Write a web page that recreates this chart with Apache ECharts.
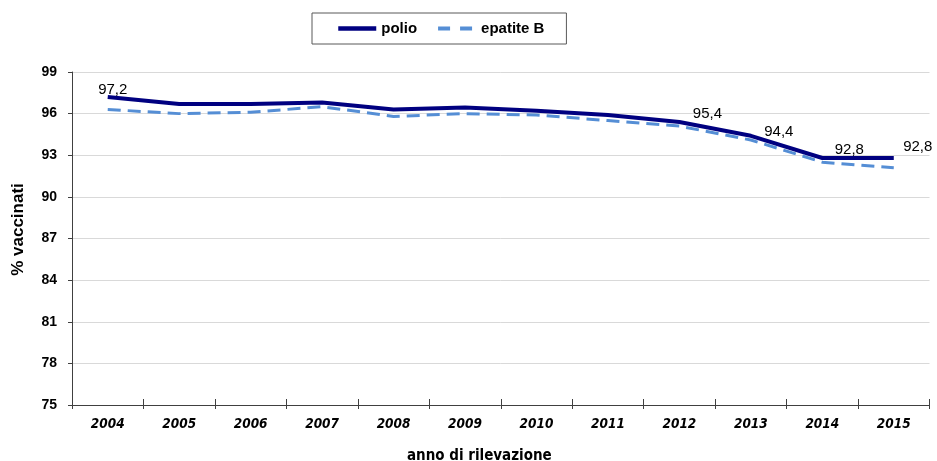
<!DOCTYPE html>
<html>
<head>
<meta charset="utf-8">
<script src="https://cdn.jsdelivr.net/npm/echarts@6/dist/echarts.min.js"></script>
<style>
  html, body { margin: 0; padding: 0; background: #fff; }
  #chart { width: 937px; height: 461px; }
</style>
</head>
<body>
<div id="chart"></div>
<script>
// Survey years
const years = ['2004', '2005', '2006', '2007', '2008', '2009', '2010', '2011', '2012', '2013', '2014', '2015'];
// Vaccination coverage (%)
const polio = [97.2, 96.7, 96.7, 96.8, 96.3, 96.45, 96.2, 95.9, 95.4, 94.4, 92.8, 92.8];
const epatiteB = [96.3, 96.0, 96.1, 96.5, 95.8, 96.0, 95.9, 95.5, 95.1, 94.1, 92.5, 92.1];
// Y axis range
const yMin = 75, yMax = 99, yStep = 3;

// Which polio points carry a value label, with the label's nudge in px
const labelNudge = { 0: [5, 1], 8: [28, 0], 9: [28, 4], 10: [27, 0], 11: [24, -3] };

const fmt = v => String(v).replace('.', ',');

const polioData = polio.map((v, i) => {
  const nudge = labelNudge[i];
  if (!nudge) return v;
  return {
    value: v,
    symbol: 'circle',
    symbolSize: 1,
    itemStyle: { opacity: 0 },
    label: {
      show: true,
      position: 'top',
      distance: 0,
      offset: nudge,
      formatter: () => fmt(v),
      fontFamily: 'Liberation Sans, Arial, sans-serif',
      fontSize: 15,
      color: '#000',
      opacity: 1
    }
  };
});

const gridBox = { left: 72, right: 7.5, top: 72, bottom: 56 };

const chart = echarts.init(document.getElementById('chart'), null, { renderer: 'canvas' });
chart.setOption({
  animation: false,
  backgroundColor: '#fff',
  legend: {
    left: 312,
    top: 13,
    padding: [8, 22, 8, 24],
    itemWidth: 38,
    itemHeight: 12,
    itemGap: 19,
    borderColor: '#595959',
    borderWidth: 1,
    borderRadius: 0,
    itemStyle: { opacity: 0 },
    textStyle: {
      fontFamily: 'Liberation Sans, Arial, sans-serif',
      fontWeight: 'bold',
      fontSize: 15,
      color: '#000'
    },
    data: [
      { name: 'polio', lineStyle: { color: '#000080', width: 4.5, type: 'solid' } },
      { name: 'epatite B', lineStyle: { color: '#558ed5', width: 4, type: [12, 10] } }
    ]
  },
  grid: [
    Object.assign({}, gridBox),
    Object.assign({}, gridBox)
  ],
  xAxis: [
    {
      type: 'category',
      gridIndex: 0,
      data: years,
      boundaryGap: true,
      axisLine: { lineStyle: { color: '#404040', width: 1 } },
      axisTick: { show: true, interval: 0, length: 4, lineStyle: { color: '#404040' } },
      axisLabel: {
        interval: 0,
        margin: 12,
        fontFamily: 'DejaVu Sans Condensed, DejaVu Sans, sans-serif',
        fontWeight: 'bold',
        fontStyle: 'italic',
        fontSize: 13.5,
        color: '#000'
      },
      splitLine: { show: false }
    },
    {
      // upper half of the crossing tick marks
      type: 'category',
      gridIndex: 1,
      data: years,
      boundaryGap: true,
      axisLine: { show: false },
      axisTick: { show: true, inside: true, interval: 0, length: 6, lineStyle: { color: '#404040' } },
      axisLabel: { show: false },
      splitLine: { show: false }
    }
  ],
  yAxis: [
    {
      type: 'value',
      gridIndex: 0,
      min: yMin,
      max: yMax,
      interval: yStep,
      name: '% vaccinati',
      nameLocation: 'middle',
      nameGap: 45,
      nameRotate: 90,
      nameTextStyle: {
        fontFamily: 'Liberation Sans, Arial, sans-serif',
        fontWeight: 'bold',
        fontSize: 17,
        color: '#000',
        padding: [0, 0, 0, 18]
      },
      axisLine: { show: true, lineStyle: { color: '#404040', width: 1 } },
      axisTick: { show: true, length: 4, lineStyle: { color: '#404040' } },
      axisLabel: {
        margin: 15,
        fontFamily: 'Liberation Sans, Arial, sans-serif',
        fontWeight: 'bold',
        fontSize: 14,
        color: '#000'
      },
      splitLine: { show: true, lineStyle: { color: '#d9d9d9', width: 1 } }
    },
    {
      type: 'value',
      gridIndex: 1,
      min: yMin,
      max: yMax,
      interval: yStep,
      show: false
    }
  ],
  graphic: [
    {
      type: 'text',
      left: 407,
      top: 449,
      style: {
        text: 'anno di rilevazione',
        font: 'bold 15px "DejaVu Sans Condensed", "DejaVu Sans", sans-serif',
        fill: '#000'
      }
    }
  ],
  series: [
    {
      name: 'polio',
      type: 'line',
      xAxisIndex: 0,
      yAxisIndex: 0,
      data: polioData,
      symbol: 'none',
      z: 3,
      lineStyle: { color: '#000080', width: 4 },
      itemStyle: { color: '#000080' }
    },
    {
      name: 'epatite B',
      type: 'line',
      xAxisIndex: 0,
      yAxisIndex: 0,
      data: epatiteB,
      symbol: 'none',
      z: 2,
      lineStyle: { color: '#558ed5', width: 3, type: [13, 7] },
      itemStyle: { color: '#558ed5' }
    }
  ]
});
</script>
</body>
</html>
